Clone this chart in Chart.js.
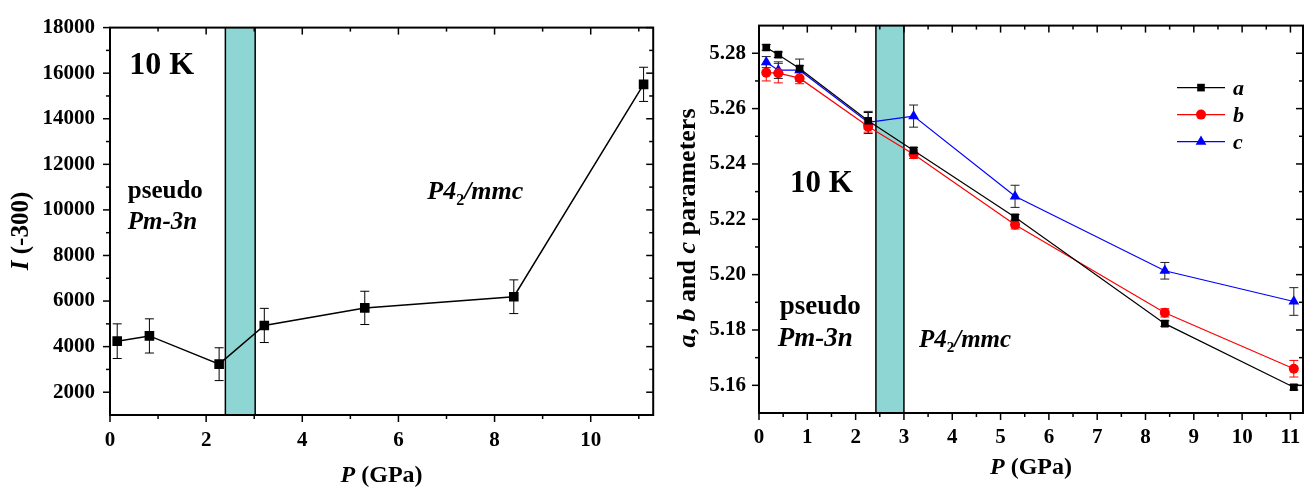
<!DOCTYPE html>
<html>
<head>
<meta charset="utf-8">
<script src="https://cdn.jsdelivr.net/npm/chart.js"></script>
<style>
  html, body { margin: 0; padding: 0; background: #fff; }
  body { width: 1314px; height: 495px; position: relative; overflow: hidden; }
  canvas { position: absolute; top: 0; }
  #left { left: 0; }
  #right { left: 660px; }
</style>
</head>
<body>
<canvas id="left" width="660" height="495"></canvas>
<canvas id="right" width="654" height="495"></canvas>
<script>
// Left panel: I(-300) vs pressure at 10 K
const pressureI = [0.15, 0.82, 2.27, 3.21, 5.3, 8.4, 11.1];
const intensity = [4240, 4470, 3230, 4930, 5700, 6190, 15510];
const intensityErr = [760, 750, 720, 750, 730, 740, 750];
const leftXTicks = [0, 2, 4, 6, 8, 10];
const leftXMinor = [1, 3, 5, 7, 9, 11];
const leftYTicks = [2000, 4000, 6000, 8000, 10000, 12000, 14000, 16000, 18000];
const leftYMinor = [3000, 5000, 7000, 9000, 11000, 13000, 15000, 17000];

// Right panel: lattice parameters a, b, c vs pressure
const pressureABC = [0.15, 0.4, 0.84, 2.26, 3.2, 5.3, 8.4, 11.07];
const paramA = [5.2821, 5.2795, 5.2745, 5.2556, 5.2449, 5.2207, 5.1823, 5.1593];
const paramAErr = [0.001, 0.001, 0.001, 0.003, 0.001, 0.001, 0.001, 0.001];
const paramB = [5.2730, 5.2728, 5.2710, 5.2535, 5.2435, 5.2180, 5.1862, 5.1660];
const paramBErr = [0.003, 0.0035, 0.002, 0.002, 0.0015, 0.0015, 0.0015, 0.003];
const paramC = [5.2768, 5.2739, 5.2739, 5.2550, 5.2573, 5.2283, 5.2014, 5.1903];
const paramCErr = [0.002, 0.003, 0.004, 0.004, 0.004, 0.004, 0.003, 0.005];
const rightXTicks = [0, 1, 2, 3, 4, 5, 6, 7, 8, 9, 10, 11];
const rightXMinor = [0.5, 1.5, 2.5, 3.5, 4.5, 5.5, 6.5, 7.5, 8.5, 9.5, 10.5];
const rightYTicks = [5.16, 5.18, 5.20, 5.22, 5.24, 5.26, 5.28];
const rightYMinor = [5.17, 5.19, 5.21, 5.23, 5.25, 5.27];

// transition region (GPa)
const bandLeft = [2.4, 3.02];
const bandRight = [2.42, 3.0];

const SERIF = '"Liberation Serif", "Times New Roman", serif';

function font(size, italic) {
    return (italic ? 'italic ' : '') + 'bold ' + size + 'px ' + SERIF;
}

// draw text made of several styled parts (italic, subscript)
function drawRich(ctx, parts, x, y, align, rot) {
    ctx.save();
    ctx.translate(x, y);
    if (rot) ctx.rotate(rot);
    ctx.fillStyle = '#000';
    ctx.textBaseline = 'alphabetic';
    ctx.textAlign = 'left';
    let w = 0;
    parts.forEach(p => {
        ctx.font = font(p.sub ? Math.round(p.s * 0.6) : p.s, p.i);
        p.w = ctx.measureText(p.t).width;
        w += p.w;
    });
    let cx = align === 'center' ? -w / 2 : 0;
    parts.forEach(p => {
        ctx.font = font(p.sub ? Math.round(p.s * 0.6) : p.s, p.i);
        ctx.fillText(p.t, cx, p.sub ? p.s * 0.22 : 0);
        cx += p.w;
    });
    ctx.restore();
}

function drawMarker(ctx, style, r, x, y) {
    ctx.beginPath();
    if (style === 'rect') {
        const s = r * Math.SQRT1_2;
        ctx.rect(x - s, y - s, 2 * s, 2 * s);
    } else if (style === 'triangle') {
        ctx.moveTo(x, y - r);
        ctx.lineTo(x + r * 0.866, y + r * 0.5);
        ctx.lineTo(x - r * 0.866, y + r * 0.5);
        ctx.closePath();
    } else {
        ctx.arc(x, y, r, 0, Math.PI * 2);
    }
    ctx.fill();
}

const decorPlugin = {
    id: 'decor',
    beforeDatasetsDraw(chart, args, opts) {
        const { ctx, chartArea: a, scales: { x, y } } = chart;
        // shaded transition band
        const x1 = x.getPixelForValue(opts.band[0]);
        const x2 = x.getPixelForValue(opts.band[1]);
        ctx.save();
        ctx.fillStyle = '#8dd6d4';
        ctx.fillRect(x1, a.top, x2 - x1, a.bottom - a.top);
        ctx.strokeStyle = '#000';
        ctx.lineWidth = 1.5;
        ctx.beginPath();
        ctx.moveTo(x1, a.top); ctx.lineTo(x1, a.bottom);
        ctx.moveTo(x2, a.top); ctx.lineTo(x2, a.bottom);
        ctx.stroke();

        // error bars
        ctx.lineWidth = 1;
        chart.data.datasets.forEach(ds => {
            if (!ds.err) return;
            ctx.strokeStyle = ds.errColor || '#000';
            ds.data.forEach((pt, j) => {
                const px = x.getPixelForValue(pt.x);
                const top = y.getPixelForValue(pt.y + ds.err[j]);
                const bot = y.getPixelForValue(pt.y - ds.err[j]);
                ctx.beginPath();
                ctx.moveTo(px, top); ctx.lineTo(px, bot);
                ctx.moveTo(px - 4.5, top); ctx.lineTo(px + 4.5, top);
                ctx.moveTo(px - 4.5, bot); ctx.lineTo(px + 4.5, bot);
                ctx.stroke();
            });
        });
        ctx.restore();
    },
    afterDraw(chart, args, opts) {
        const { ctx, chartArea: a, scales: { x, y } } = chart;
        ctx.save();
        ctx.strokeStyle = '#000';
        ctx.lineWidth = 2;
        ctx.strokeRect(a.left, a.top, a.right - a.left, a.bottom - a.top);
        ctx.lineWidth = 1.5;
        const tick = (x1, y1, x2, y2) => {
            ctx.beginPath(); ctx.moveTo(x1, y1); ctx.lineTo(x2, y2); ctx.stroke();
        };
        const xt = (vals, len) => vals.forEach(v => {
            const p = x.getPixelForValue(v);
            tick(p, a.bottom, p, a.bottom + len);
            tick(p, a.top, p, a.top + len);
        });
        const yt = (vals, len) => vals.forEach(v => {
            const p = y.getPixelForValue(v);
            tick(a.left - len, p, a.left, p);
            tick(a.right - len, p, a.right, p);
        });
        xt(opts.xMajor, 7); xt(opts.xMinor, 4);
        yt(opts.yMajor, 7); yt(opts.yMinor, 4);
        ctx.restore();

        // annotations in data coordinates
        opts.texts.forEach(t => {
            drawRich(ctx, t.parts, x.getPixelForValue(t.x), y.getPixelForValue(t.y), 'left');
        });

        // axis titles
        const cxm = (a.left + a.right) / 2;
        drawRich(ctx, [{ t: 'P', s: 24, i: true }, { t: ' (GPa)', s: 24 }], cxm, a.bottom + opts.xTitleOffset, 'center');
        drawRich(ctx, opts.yTitle, a.left - opts.yTitleOffset, opts.yTitleCenter, 'center', -Math.PI / 2);

        // legend
        if (opts.legend) {
            const lx = a.right - 126;
            let ly = a.top + 62;
            chart.data.datasets.forEach(ds => {
                ctx.save();
                ctx.strokeStyle = ds.borderColor;
                ctx.lineWidth = 1.2;
                ctx.beginPath(); ctx.moveTo(lx, ly); ctx.lineTo(lx + 48, ly); ctx.stroke();
                ctx.fillStyle = ds.backgroundColor;
                drawMarker(ctx, ds.pointStyle, ds.pointRadius, lx + 24, ly);
                ctx.restore();
                drawRich(ctx, [{ t: ds.label, s: 22, i: true }], lx + 56, ly + 7, 'left');
                ly += 27;
            });
        }
    }
};

function makeScales(xMin, xMax, xTicks, yMin, yMax, yTicks, yDigits, yWidth, xHeight, yPad, xPad) {
    const tickFont = { family: SERIF, size: 21, weight: 'bold' };
    return {
        x: {
            type: 'linear', min: xMin, max: xMax,
            grid: { display: false, drawTicks: false },
            border: { display: false },
            afterBuildTicks: s => { s.ticks = xTicks.map(v => ({ value: v })); },
            afterFit: s => { s.height = xHeight; },
            ticks: { font: tickFont, color: '#000', padding: xPad, maxRotation: 0,
                     callback: v => String(v) }
        },
        y: {
            type: 'linear', min: yMin, max: yMax,
            grid: { display: false, drawTicks: false },
            border: { display: false },
            afterBuildTicks: s => { s.ticks = yTicks.map(v => ({ value: v })); },
            afterFit: s => { s.width = yWidth; },
            ticks: { font: tickFont, color: '#000', padding: yPad,
                     callback: v => v.toFixed(yDigits) }
        }
    };
}

const toPoints = (xs, ys) => xs.map((p, i) => ({ x: p, y: ys[i] }));

// left chart
new Chart(document.getElementById('left'), {
    type: 'line',
    data: {
        datasets: [{
            label: 'I',
            data: toPoints(pressureI, intensity),
            err: intensityErr,
            borderColor: '#000', backgroundColor: '#000',
            borderWidth: 1.5, pointStyle: 'rect', pointRadius: 6.8,
            pointBorderWidth: 0, tension: 0
        }]
    },
    options: {
        responsive: false, animation: false, devicePixelRatio: 1,
        layout: { padding: { left: 0, right: 3, top: 13, bottom: 0 } },
        scales: makeScales(0, 11.3, leftXTicks, 1000, 18000, leftYTicks, 0, 110, 80, 15, 13),
        plugins: {
            legend: { display: false }, tooltip: { enabled: false },
            decor: {
                band: bandLeft,
                xMajor: leftXTicks, xMinor: leftXMinor, yMajor: leftYTicks, yMinor: leftYMinor,
                texts: [
                    { parts: [{ t: '10 K', s: 32 }], x: 0.4, y: 15950 },
                    { parts: [{ t: 'pseudo', s: 25 }], x: 0.37, y: 10530 },
                    { parts: [{ t: 'Pm-3n', s: 25, i: true }], x: 0.37, y: 9146 },
                    { parts: [{ t: 'P4', s: 26, i: true }, { t: '2', s: 26, sub: true }, { t: '/mmc', s: 26, i: true }], x: 6.6, y: 10460 }
                ],
                xTitleOffset: 67,
                yTitle: [{ t: 'I', s: 25, i: true }, { t: ' (-300)', s: 25 }],
                yTitleOffset: 82, yTitleCenter: 231,
                legend: false
            }
        }
    },
    plugins: [decorPlugin]
});

// right chart
new Chart(document.getElementById('right'), {
    type: 'line',
    data: {
        datasets: [
            { label: 'a', data: toPoints(pressureABC, paramA), err: paramAErr, errColor: '#000',
              borderColor: '#000', backgroundColor: '#000', pointStyle: 'rect', pointRadius: 5.4 },
            { label: 'b', data: toPoints(pressureABC, paramB), err: paramBErr, errColor: '#ff0000',
              borderColor: '#ff0000', backgroundColor: '#ff0000', pointStyle: 'circle', pointRadius: 5 },
            { label: 'c', data: toPoints(pressureABC, paramC), err: paramCErr, errColor: '#222',
              borderColor: '#0000ff', backgroundColor: '#0000ff', pointStyle: 'triangle', pointRadius: 6.2 }
        ].map(d => Object.assign(d, { borderWidth: 1.2, pointBorderWidth: 0, tension: 0 }))
    },
    options: {
        responsive: false, animation: false, devicePixelRatio: 1,
        layout: { padding: { left: 0, right: 11, top: 14, bottom: 0 } },
        scales: makeScales(0, 11.26, rightXTicks, 5.15, 5.29, rightYTicks, 2, 99, 82, 13, 12),
        plugins: {
            legend: { display: false }, tooltip: { enabled: false },
            decor: {
                band: bandRight,
                xMajor: rightXTicks, xMinor: rightXMinor, yMajor: rightYTicks, yMinor: rightYMinor,
                texts: [
                    { parts: [{ t: '10 K', s: 31 }], x: 0.64, y: 5.2300 },
                    { parts: [{ t: 'pseudo', s: 27 }], x: 0.43, y: 5.1856 },
                    { parts: [{ t: 'Pm-3n', s: 27, i: true }], x: 0.39, y: 5.1742 },
                    { parts: [{ t: 'P4', s: 25, i: true }, { t: '2', s: 25, sub: true }, { t: '/mmc', s: 25, i: true }], x: 3.31, y: 5.1739 }
                ],
                xTitleOffset: 61,
                yTitle: [{ t: 'a', s: 26, i: true }, { t: ', ', s: 26 }, { t: 'b', s: 26, i: true },
                         { t: ' and ', s: 26 }, { t: 'c', s: 26, i: true }, { t: ' parameters', s: 26 }],
                yTitleOffset: 64, yTitleCenter: 228,
                legend: true
            }
        }
    },
    plugins: [decorPlugin]
});
</script>
</body>
</html>
